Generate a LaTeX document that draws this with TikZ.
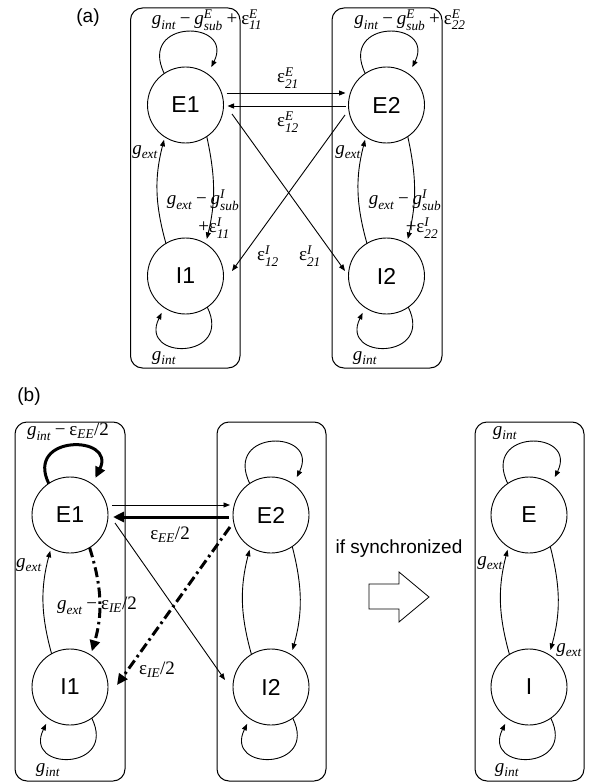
\documentclass[tikz,border=0pt]{standalone}
\usepackage{amsmath}
\usepackage{fontspec}
\setmainfont{Liberation Serif}
\newfontfamily\sansf{Liberation Sans}
\usetikzlibrary{arrows.meta}

% italic variable names, upright epsilon, text-font operators
\newcommand{\vi}[1]{\text{\itshape #1}}
\newcommand{\ep}{\text{\upshape ε}}
\newcommand{\mmi}{\mathbin{\text{−}}}
\newcommand{\mpl}{\mathbin{\text{+}}}

\begin{document}
\begin{tikzpicture}[x=1pt,y=1pt,
  pop/.style={circle, draw, line width=0.9pt, minimum size=76pt, inner sep=0pt, outer sep=0pt,
    font=\sansf\fontsize{23}{23}\selectfont},
  grp/.style={draw, line width=1pt, rounded corners=12pt, inner sep=0pt},
  conn/.style={line width=0.9pt, -{Triangle[length=6.5pt,width=5pt]}},
  heavy/.style={line width=3pt, -{Triangle[length=11pt,width=10pt]}},
  dd/.style={dash pattern=on 10pt off 4pt on 2.5pt off 4pt},
  lbl/.style={font=\fontsize{19}{19}\selectfont, inner sep=0pt},
  tag/.style={font=\sansf\fontsize{19}{19}\selectfont, inner sep=0pt},
]
\useasboundingbox (0,0) rectangle (591,-783);

% ---------------- panel (a) ----------------
\node[tag] (taga) at (88,-18) {(a)};
\node[grp, minimum width=109.5pt, minimum height=360pt] (boxa1) at (185.25,-188) {};
\node[grp, minimum width=110pt, minimum height=360pt] (boxa2) at (387,-188) {};

\node[pop] (E1a) at (185.5,-105) {E1};
\node[pop] (E2a) at (386.5,-105) {E2};
\node[pop] (I1a) at (185.5,-276) {I1};
\node[pop] (I2a) at (386.5,-276) {I2};

% self loops
\foreach \n in {E1a,E2a}
  \draw[conn, shorten >=8pt] (\n.124) to[out=116,in=64,distance=61pt] (\n.54);
\foreach \n in {I1a,I2a}
  \draw[conn, shorten >=6pt] (\n.-55) to[out=-64,in=-116,distance=59pt] (\n.-124);

% E <-> I within each group
\draw[conn, shorten >=3pt] (I1a.121) to[bend left=15] (E1a.237);
\draw[conn, shorten >=5pt] (E1a.304) to[bend left=13] (I1a.58);
\draw[conn, shorten >=3pt] (I2a.121) to[bend left=15] (E2a.237);
\draw[conn, shorten >=5pt] (E2a.304) to[bend left=13] (I2a.58);

% between groups
\draw[conn] ([shift={(3,12)}]E1a.east) -- ([shift={(-3,12)}]E2a.west);
\draw[conn] ([shift={(-3,-1)}]E2a.west) -- ([shift={(4,-1)}]E1a.east);
\draw[conn] ([shift={(46.5,-9)}]E1a.center) -- ([shift={(-41.5,5)}]I2a.center);
\draw[conn] ([shift={(-41.5,-10)}]E2a.center) -- ([shift={(46.5,5)}]I1a.center);

% labels
\node[lbl] (la1) at (207,-20) {$\vi{g}_{\vi{int}} \mmi \vi{g}^{\vi{E}}_{\vi{sub}} \mpl \ep^{\vi{E}}_{\vi{11}}$};
\node[lbl] (la2) at (410,-20) {$\vi{g}_{\vi{int}} \mmi \vi{g}^{\vi{E}}_{\vi{sub}} \mpl \ep^{\vi{E}}_{\vi{22}}$};
\node[lbl] (la3) at (288,-78) {$\ep^{\vi{E}}_{\vi{21}}$};
\node[lbl] (la4) at (288,-122) {$\ep^{\vi{E}}_{\vi{12}}$};
\node[lbl] (la5) at (145,-152) {$\vi{g}_{\vi{ext}}$};
\node[lbl] (la6) at (348,-152) {$\vi{g}_{\vi{ext}}$};
\node[lbl] (la7) at (203,-200) {$\vi{g}_{\vi{ext}} \mmi \vi{g}^{\vi{I}}_{\vi{sub}}$};
\node[lbl] (la8) at (214,-228) {$\mpl \ep^{\vi{I}}_{\vi{11}}$};
\node[lbl] (la9) at (405,-200) {$\vi{g}_{\vi{ext}} \mmi \vi{g}^{\vi{I}}_{\vi{sub}}$};
\node[lbl] (la10) at (422,-228) {$\mpl \ep^{\vi{I}}_{\vi{22}}$};
\node[lbl] (la11) at (268,-256) {$\ep^{\vi{I}}_{\vi{12}}$};
\node[lbl] (la12) at (310,-256) {$\ep^{\vi{I}}_{\vi{21}}$};
\node[lbl] (la13) at (164,-358) {$\vi{g}_{\vi{int}}$};
\node[lbl] (la14) at (365,-358) {$\vi{g}_{\vi{int}}$};

% ---------------- panel (b) ----------------
\node[tag] (tagb) at (29,-397) {(b)};
\node[grp, minimum width=110pt, minimum height=359pt] (boxb1) at (70,-601.5) {};
\node[grp, minimum width=109pt, minimum height=359pt] (boxb2) at (271.5,-601.5) {};
\node[grp, minimum width=109pt, minimum height=359pt] (boxb3) at (529.5,-601.5) {};

\node[pop] (E1b) at (70,-515) {E1};
\node[pop] (E2b) at (271,-515) {E2};
\node[pop] (I1b) at (70,-687) {I1};
\node[pop] (I2b) at (271,-687) {I2};
\node[pop] (Eb) at (529,-515) {E};
\node[pop] (Ib) at (529,-687) {I};

% self loops
\draw[heavy, shorten >=7pt] (E1b.124) to[out=116,in=64,distance=55pt] (E1b.54);
\foreach \n in {E2b,Eb}
  \draw[conn, shorten >=8pt] (\n.124) to[out=116,in=64,distance=61pt] (\n.54);
\foreach \n in {I1b,I2b,Ib}
  \draw[conn, shorten >=6pt] (\n.-55) to[out=-64,in=-116,distance=59pt] (\n.-124);

% E <-> I within each group
\draw[conn, shorten >=3pt] (I1b.119) to[bend left=15] (E1b.240);
\draw[heavy, dd, shorten >=4pt] (E1b.301) to[bend left=17] (I1b.57);
\draw[conn, shorten >=3pt] (I2b.121) to[bend left=15] (E2b.237);
\draw[conn, shorten >=5pt] (E2b.304) to[bend left=15] (I2b.58);
\draw[conn, shorten >=3pt] (Ib.121) to[bend left=15] (Eb.237);
\draw[conn, shorten >=5pt] (Eb.304) to[bend left=15] (Ib.58);

% between groups
\draw[conn] ([shift={(4,10)}]E1b.east) -- ([shift={(-3,10)}]E2b.west);
\draw[heavy] ([shift={(-4,-2)}]E2b.west) -- ([shift={(5,-2)}]E1b.east);
\draw[conn] ([shift={(45,-8)}]E1b.center) -- ([shift={(-46,7)}]I2b.center);
\draw[heavy, dd] ([shift={(-41,-12)}]E2b.center) -- ([shift={(47,2)}]I1b.center);

% reduction arrow
\node[tag] (sync) at (399,-549) {if synchronized};
\draw[line width=0.8pt, line join=miter] (369,-584) -- (399,-584) -- (399,-572) -- (429,-597)
  -- (399,-622) -- (399,-609) -- (369,-609) -- cycle;

% labels
\node[lbl] (lb1) at (68,-432) {$\vi{g}_{\vi{int}} \mmi \ep_{\vi{EE}}\text{/2}$};
\node[lbl] (lb2) at (170,-535) {$\ep_{\vi{EE}}\text{/2}$};
\node[lbl] (lb3) at (97,-606) {$\vi{g}_{\vi{ext}} \mmi \ep_{\vi{IE}}\text{/2}$};
\node[lbl] (lb4) at (157,-670) {$\ep_{\vi{IE}}\text{/2}$};
\node[lbl, anchor=west] (lb5) at (16,-565) {$\vi{g}_{\vi{ext}}$};
\node[lbl] (lb6) at (48,-770) {$\vi{g}_{\vi{int}}$};
\node[lbl] (lb7) at (505,-433) {$\vi{g}_{\vi{int}}$};
\node[lbl] (lb8) at (490,-563) {$\vi{g}_{\vi{ext}}$};
\node[lbl] (lb9) at (569,-650) {$\vi{g}_{\vi{ext}}$};
\node[lbl] (lb10) at (507,-770) {$\vi{g}_{\vi{int}}$};
\end{tikzpicture}
\end{document}
